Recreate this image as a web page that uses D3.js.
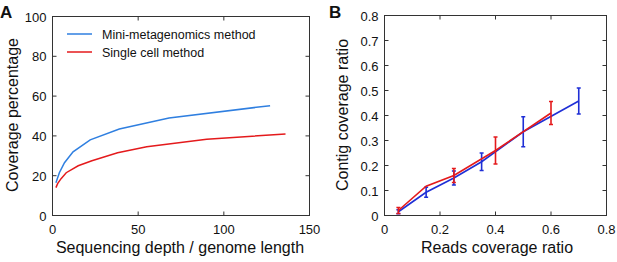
<!DOCTYPE html>
<html>
<head>
<meta charset="utf-8">
<script src="https://cdn.jsdelivr.net/npm/d3@7"></script>
<style>
  body { margin: 0; background: #fff; }
  svg text { font-family: "Liberation Sans", Arial, sans-serif; fill: #111; }
</style>
</head>
<body>
<svg id="chart" width="617" height="262"></svg>
<script>
// Panel A data: coverage percentage vs sequencing depth / genome length
const miniDepth = [2, 4, 7, 12, 22, 39, 68, 127];
const miniCov = [16.5, 21.5, 26.5, 32, 38, 43.5, 49, 55.2];
const singleDepth = [2, 3, 5, 8, 15, 23, 38, 55, 90, 136];
const singleCov = [14, 16, 18.5, 21.5, 25, 27.5, 31.5, 34.5, 38.3, 41];

// Panel B data: contig coverage ratio vs reads coverage ratio (mean, error)
const blueX = [0.05, 0.15, 0.25, 0.35, 0.5, 0.7];
const blueY = [0.015, 0.093, 0.15, 0.215, 0.335, 0.458];
const blueErr = [0.008, 0.02, 0.028, 0.035, 0.06, 0.052];
const redX = [0.05, 0.15, 0.25, 0.4, 0.6];
const redY = [0.02, 0.117, 0.16, 0.26, 0.41];
const redErr = [0.012, 0, 0.028, 0.054, 0.046];

const xTicksA = [0, 50, 100, 150];
const yTicksA = [0, 20, 40, 60, 80, 100];
const xTicksB = [0, 0.2, 0.4, 0.6, 0.8];
const yTicksB = [0, 0.1, 0.2, 0.3, 0.4, 0.5, 0.6, 0.7, 0.8];

const blueA = '#2f7fe0';
const redColor = '#e41a1c';
const blueB = '#1f2fd6';
const tickFont = '13px';
const labelFont = '16px';

const svg = d3.select('#chart');

function drawFrame(g, x, y, xTicks, yTicks, xFmt, yFmt) {
  const [x0, x1] = x.range();
  const [y0, y1] = y.range();
  g.append('rect')
    .attr('x', x0).attr('y', y1)
    .attr('width', x1 - x0).attr('height', y0 - y1)
    .attr('fill', 'none').attr('stroke', '#333').attr('stroke-width', 1);

  const tl = 4;
  g.selectAll('.xt').data(xTicks).enter().append('path')
    .attr('d', d => `M${x(d)},${y0}v${-tl}M${x(d)},${y1}v${tl}`)
    .attr('stroke', '#333');
  g.selectAll('.yt').data(yTicks).enter().append('path')
    .attr('d', d => `M${x0},${y(d)}h${tl}M${x1},${y(d)}h${-tl}`)
    .attr('stroke', '#333');

  g.selectAll('.xl').data(xTicks).enter().append('text')
    .attr('x', d => x(d)).attr('y', y0 + 18)
    .attr('text-anchor', 'middle')
    .style('font-size', tickFont)
    .text(xFmt);
  g.selectAll('.yl').data(yTicks).enter().append('text')
    .attr('x', x0 - 6).attr('y', d => y(d) + 5)
    .attr('text-anchor', 'end')
    .style('font-size', tickFont)
    .text(yFmt);
}

// ---------- Panel A ----------
const xA = d3.scaleLinear().domain([0, 150]).range([52.5, 309.5]);
const yA = d3.scaleLinear().domain([0, 100]).range([215.5, 16.5]);
const gA = svg.append('g');

drawFrame(gA, xA, yA, xTicksA, yTicksA, d => d, d => d);

const lineA = d3.line().x(d => xA(d[0])).y(d => yA(d[1]));
gA.append('path')
  .datum(d3.zip(singleDepth, singleCov))
  .attr('d', lineA).attr('fill', 'none')
  .attr('stroke', redColor).attr('stroke-width', 1.5);
gA.append('path')
  .datum(d3.zip(miniDepth, miniCov))
  .attr('d', lineA).attr('fill', 'none')
  .attr('stroke', blueA).attr('stroke-width', 1.5);

const legend = [['Mini-metagenomics method', blueA], ['Single cell method', redColor]];
legend.forEach((l, i) => {
  const ly = 34 + i * 18;
  gA.append('line')
    .attr('x1', 67).attr('x2', 92).attr('y1', ly).attr('y2', ly)
    .attr('stroke', l[1]).attr('stroke-width', 1.5);
  gA.append('text')
    .attr('x', 102).attr('y', ly + 4.5)
    .style('font-size', '12.5px')
    .text(l[0]);
});

gA.append('text')
  .attr('x', 180).attr('y', 253)
  .attr('text-anchor', 'middle')
  .style('font-size', labelFont)
  .text('Sequencing depth / genome length');
gA.append('text')
  .attr('transform', `translate(18,115) rotate(-90)`)
  .attr('text-anchor', 'middle')
  .style('font-size', labelFont)
  .text('Coverage percentage');
gA.append('text')
  .attr('x', 0).attr('y', 18)
  .style('font-size', '17px').style('font-weight', 'bold')
  .text('A');

// ---------- Panel B ----------
const xB = d3.scaleLinear().domain([0, 0.8]).range([384.5, 606.5]);
const yB = d3.scaleLinear().domain([0, 0.8]).range([215.5, 15.5]);
const gB = svg.append('g');

drawFrame(gB, xB, yB, xTicksB, yTicksB, d => d, d => d);

function drawSeries(xs, ys, errs, color) {
  const pts = xs.map((x, i) => ({x: x, y: ys[i], e: errs[i]}));
  gB.append('path')
    .datum(pts)
    .attr('d', d3.line().x(d => xB(d.x)).y(d => yB(d.y)))
    .attr('fill', 'none').attr('stroke', color).attr('stroke-width', 1.6);
  const bars = gB.selectAll(null).data(pts.filter(d => d.e > 0)).enter();
  bars.append('path')
    .attr('d', d => {
      const cx = xB(d.x), top = yB(d.y + d.e), bot = yB(d.y - d.e);
      return `M${cx},${top}V${bot}M${cx - 2},${top}h4M${cx - 2},${bot}h4`;
    })
    .attr('fill', 'none').attr('stroke', color).attr('stroke-width', 1.6);
}
drawSeries(blueX, blueY, blueErr, blueB);
drawSeries(redX, redY, redErr, redColor);

gB.append('text')
  .attr('x', 497).attr('y', 253)
  .attr('text-anchor', 'middle')
  .style('font-size', labelFont)
  .text('Reads coverage ratio');
gB.append('text')
  .attr('transform', `translate(348,115) rotate(-90)`)
  .attr('text-anchor', 'middle')
  .style('font-size', labelFont)
  .text('Contig coverage ratio');
gB.append('text')
  .attr('x', 329).attr('y', 18)
  .style('font-size', '17px').style('font-weight', 'bold')
  .text('B');
</script>
</body>
</html>
